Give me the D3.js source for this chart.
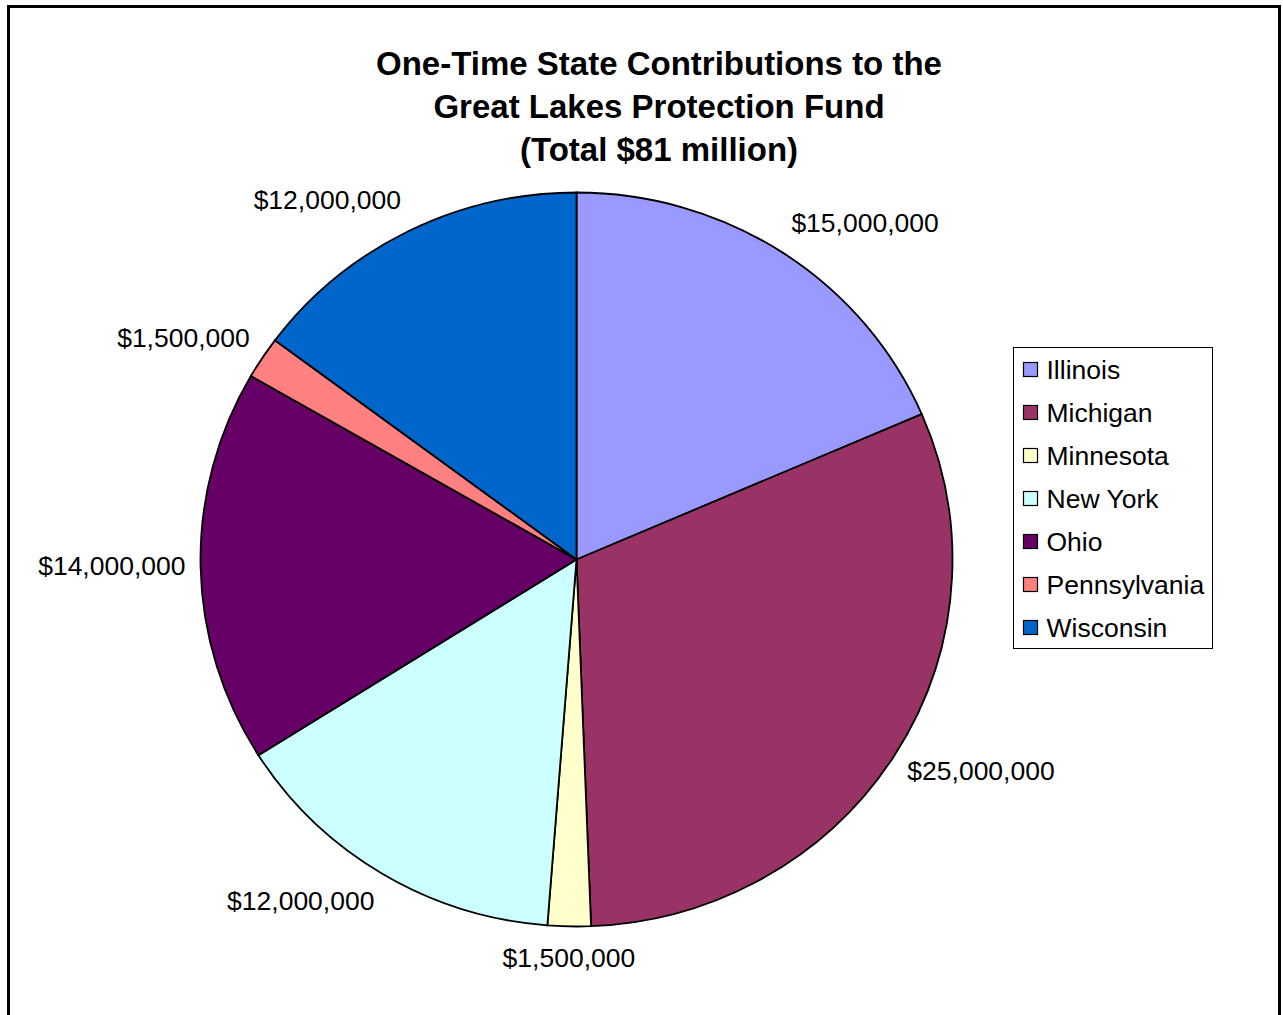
<!DOCTYPE html>
<meta charset="utf-8" />
<script src="https://d3js.org/d3.v7.min.js"></script>
<style>
  body { margin: 0; background: #fff; }
  text { font-family: "Liberation Sans", Arial, sans-serif; }
</style>
<svg width="1283" height="1015" id="chart"></svg>
<script>
  // data
  var states = ["Illinois", "Michigan", "Minnesota", "New York", "Ohio", "Pennsylvania", "Wisconsin"];
  var amounts = [15000000, 25000000, 1500000, 12000000, 14000000, 1500000, 12000000];
  var colors = ["#9999ff", "#993366", "#ffffcc", "#ccffff", "#660066", "#ff8080", "#0066cc"];
  var titleLines = ["One-Time State Contributions to the", "Great Lakes Protection Fund", "(Total $81 million)"];

  var svg = d3.select("#chart");

  // outer frame
  svg.append("rect")
    .attr("x", 8.5).attr("y", 6.5)
    .attr("width", 1271).attr("height", 1030)
    .attr("fill", "none").attr("stroke", "#000").attr("stroke-width", 3);

  // title
  svg.append("g").selectAll("text")
    .data(titleLines)
    .enter().append("text")
    .attr("x", 659)
    .attr("y", function (d, i) { return 75 + i * 43; })
    .attr("text-anchor", "middle")
    .style("font-weight", "bold")
    .style("font-size", "33px")
    .text(function (d) { return d; });

  var data = states.map(function (s, i) { return { state: s, value: amounts[i], color: colors[i] }; });

  var cx = 576.5, cy = 559.5, rx = 376, ry = 367;

  var pie = d3.pie().sort(null).value(function (d) { return d.value; });
  var arcs = pie(data);
  var arc = d3.arc().innerRadius(0).outerRadius(rx);

  var g = svg.append("g")
    .attr("transform", "translate(" + cx + "," + cy + ") scale(1," + (ry / rx) + ")");

  g.selectAll("path")
    .data(arcs)
    .enter().append("path")
    .attr("d", arc)
    .attr("fill", function (d) { return d.data.color; })
    .attr("stroke", "#000")
    .attr("stroke-width", 1.8)
    .attr("vector-effect", "non-scaling-stroke");

  // data labels outside the pie
  var fmt = d3.format("$,");
  svg.append("g").selectAll("text")
    .data(arcs)
    .enter().append("text")
    .each(function (d) {
      var a = (d.startAngle + d.endAngle) / 2;
      var s = Math.sin(a), c = Math.cos(a);
      var px = cx + s * rx * 1.04, py = cy - c * ry * 1.05;
      var anchor = s > 0.3 ? "start" : (s < -0.3 ? "end" : "middle");
      d3.select(this)
        .attr("x", px)
        .attr("y", py - c * 15 - 2)
        .attr("dy", "0.35em")
        .attr("text-anchor", anchor);
    })
    .style("font-size", "26.5px")
    .text(function (d) { return fmt(d.data.value); });

  // legend
  var leg = svg.append("g").attr("transform", "translate(1013.5,347.5)");
  leg.append("rect")
    .attr("width", 199).attr("height", 301)
    .attr("fill", "#fff").attr("stroke", "#000").attr("stroke-width", 1);
  var items = leg.selectAll("g.item")
    .data(data)
    .enter().append("g")
    .attr("transform", function (d, i) { return "translate(0," + (22 + i * 43) + ")"; });
  items.append("rect")
    .attr("x", 10).attr("y", -7)
    .attr("width", 14).attr("height", 14)
    .attr("fill", function (d) { return d.color; })
    .attr("stroke", "#000").attr("stroke-width", 1.2);
  items.append("text")
    .attr("x", 33).attr("y", 9.5)
    .style("font-size", "26.5px")
    .text(function (d) { return d.state; });
</script>
